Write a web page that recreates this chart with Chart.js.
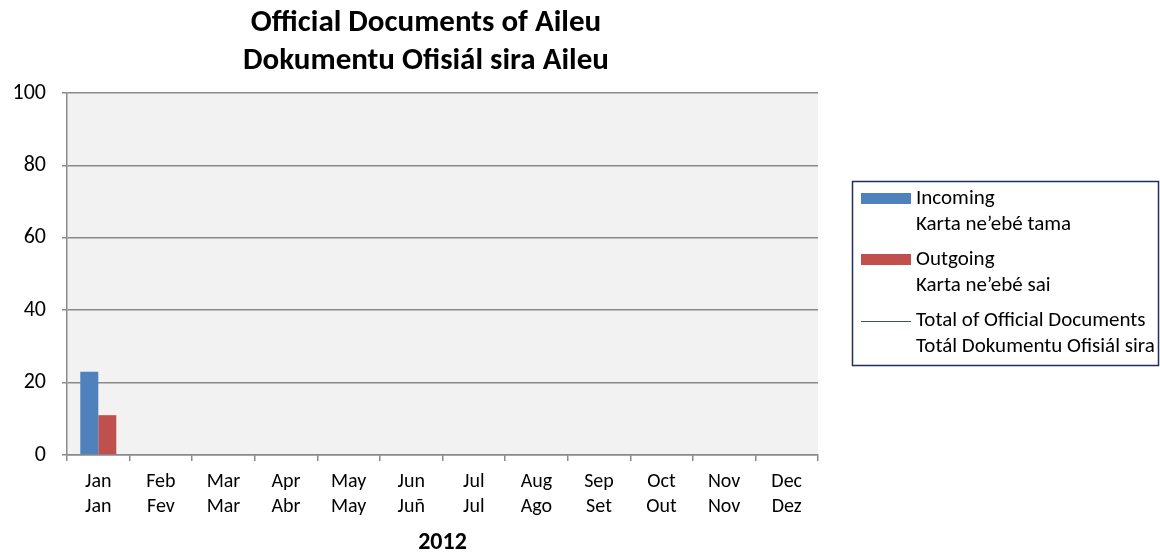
<!DOCTYPE html>
<html>
<head>
<meta charset="utf-8">
<title>Official Documents of Aileu</title>
<script src="https://cdn.jsdelivr.net/npm/chart.js@4.4.1/dist/chart.umd.min.js"></script>
<style>
  html, body { margin: 0; padding: 0; background: #ffffff; }
  #wrap { width: 1160px; height: 554px; position: relative; }
</style>
</head>
<body>
<div id="wrap"><canvas id="chart" width="1160" height="554"></canvas></div>
<script>
// Month labels: English on top, Tetum below
const monthsEn = ['Jan', 'Feb', 'Mar', 'Apr', 'May', 'Jun', 'Jul', 'Aug', 'Sep', 'Oct', 'Nov', 'Dec'];
const monthsTet = ['Jan', 'Fev', 'Mar', 'Abr', 'May', 'Juñ', 'Jul', 'Ago', 'Set', 'Out', 'Nov', 'Dez'];

// Documents per month, 2012
const incoming = [23, null, null, null, null, null, null, null, null, null, null, null];
const outgoing = [11, null, null, null, null, null, null, null, null, null, null, null];
const totalDocs = [34, null, null, null, null, null, null, null, null, null, null, null];

const yTicks = [0, 20, 40, 60, 80, 100];

const titleLines = ['Official Documents of Aileu', 'Dokumentu Ofisiál sira Aileu'];
const seriesNames = [
  ['Incoming', 'Karta ne\u2019ebé tama'],
  ['Outgoing', 'Karta ne\u2019ebé sai'],
  ['Total of Official Documents', 'Totál Dokumentu Ofisiál sira']
];
const yearLabel = '2012';

const FONT = 'Carlito, Lato, "Liberation Sans", sans-serif';
const GRID = '#8a8a8a';

// Light grey plot background
const plotBackground = {
  id: 'plotBackground',
  beforeDraw(chart) {
    const { ctx, chartArea: a } = chart;
    ctx.save();
    ctx.fillStyle = '#f2f2f2';
    ctx.fillRect(a.left, a.top, a.right - a.left, a.bottom - a.top);
    ctx.restore();
  }
};

// Title, year caption and boxed two-line legend
const annotations = {
  id: 'annotations',
  afterDraw(chart) {
    const { ctx, chartArea: a } = chart;
    ctx.save();
    ctx.fillStyle = '#000000';
    ctx.textAlign = 'center';
    ctx.textBaseline = 'middle';
    ctx.font = 'bold 31px ' + FONT;
    ctx.fillText(titleLines[0], 426, 23);
    ctx.fillText(titleLines[1], 426, 61);

    ctx.font = 'bold 24px ' + FONT;
    ctx.fillText(yearLabel, (a.left + a.right) / 2, 543);

    // legend frame
    ctx.strokeStyle = '#1f2f5f';
    ctx.lineWidth = 1.5;
    ctx.strokeRect(852.5, 181.5, 306, 184);

    ctx.textAlign = 'left';
    ctx.font = '21px ' + FONT;
    const rows = [199, 260, 321];
    chart.data.datasets.forEach((ds, i) => {
      const y = rows[i];
      if (ds.type === 'line') {
        ctx.strokeStyle = ds.borderColor;
        ctx.lineWidth = 1.2;
        ctx.beginPath();
        ctx.moveTo(861, y + 0.5);
        ctx.lineTo(911, y + 0.5);
        ctx.stroke();
      } else {
        ctx.fillStyle = ds.backgroundColor;
        ctx.fillRect(861, y - 6, 50, 11);
      }
      ctx.fillStyle = '#000000';
      ctx.fillText(seriesNames[i][0], 916, y);
      ctx.fillText(seriesNames[i][1], 916, y + 26);
    });
    ctx.restore();
  }
};

new Chart(document.getElementById('chart'), {
  type: 'bar',
  data: {
    labels: monthsEn.map((m, i) => [m, monthsTet[i]]),
    datasets: [
      {
        label: seriesNames[0].join(' '),
        data: incoming,
        backgroundColor: '#4f81bd',
        categoryPercentage: 0.575,
        barPercentage: 1.0
      },
      {
        label: seriesNames[1].join(' '),
        data: outgoing,
        backgroundColor: '#c0504d',
        categoryPercentage: 0.575,
        barPercentage: 1.0
      },
      {
        type: 'line',
        label: seriesNames[2].join(' '),
        data: totalDocs,
        borderColor: '#3b4e86',
        backgroundColor: '#3b4e86',
        borderWidth: 1.5,
        pointRadius: 0,
        fill: false
      }
    ]
  },
  options: {
    responsive: false,
    animation: false,
    devicePixelRatio: 1,
    layout: { padding: { top: 93, right: 342, bottom: 0, left: 0 } },
    plugins: {
      legend: { display: false },
      title: { display: false },
      tooltip: { enabled: false }
    },
    scales: {
      x: {
        offset: true,
        grid: {
          offset: true,
          drawOnChartArea: false,
          drawTicks: true,
          tickLength: 6,
          color: GRID,
          lineWidth: 1.5
        },
        border: { display: true, color: GRID, width: 1.5 },
        ticks: {
          color: '#000000',
          font: { family: FONT, size: 20, lineHeight: 1.25 },
          padding: 8,
          maxRotation: 0,
          autoSkip: false
        },
        afterFit(scale) { scale.height = 99; }
      },
      y: {
        min: 0,
        max: 100,
        afterBuildTicks(scale) { scale.ticks = yTicks.map(v => ({ value: v })); },
        grid: {
          color: GRID,
          lineWidth: 1.5,
          drawTicks: true,
          tickLength: 5
        },
        border: { display: true, color: GRID, width: 1.5 },
        ticks: {
          color: '#000000',
          font: { family: FONT, size: 22 },
          padding: 16
        },
        afterFit(scale) { scale.width = 67; }
      }
    }
  },
  plugins: [plotBackground, annotations]
});
</script>
</body>
</html>
